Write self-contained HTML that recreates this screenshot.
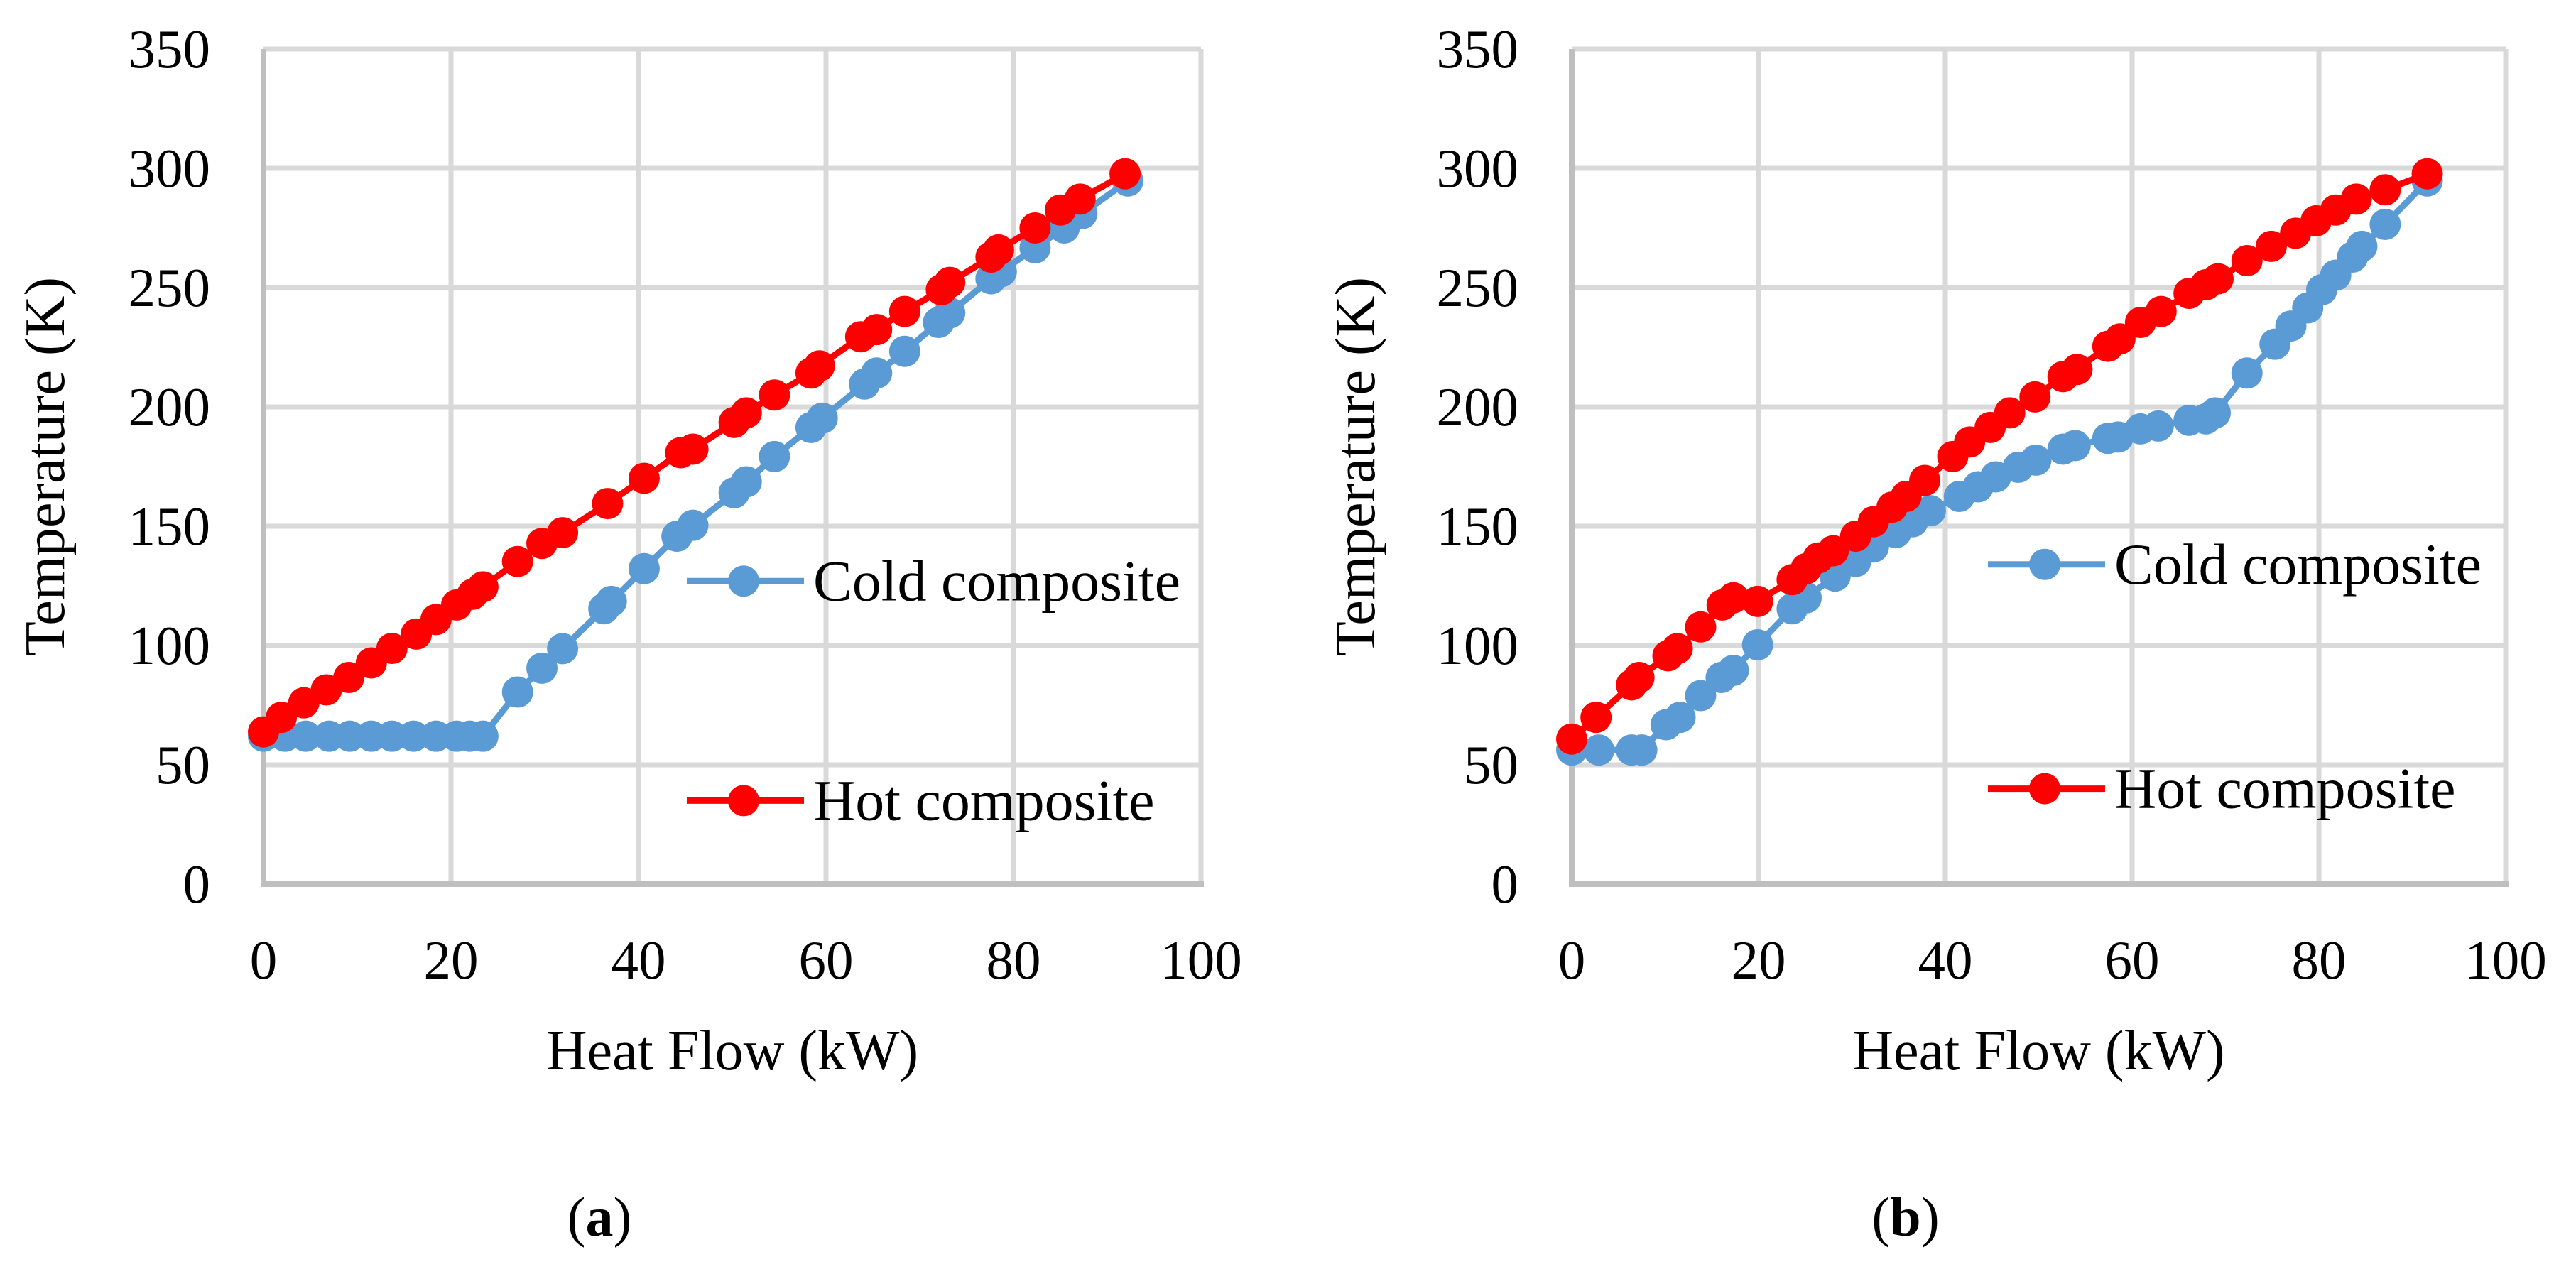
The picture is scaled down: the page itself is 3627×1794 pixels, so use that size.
<!DOCTYPE html>
<html><head><meta charset="utf-8"><style>
html,body{margin:0;padding:0;background:#fff;}
svg{display:block;font-family:"Liberation Serif",serif;}
</style></head><body>
<svg id="fig" width="3627" height="1794" viewBox="0 0 3627 1794"></svg>
<script>
const xTicks=[0,20,40,60,80,100];
const yTicks=[0,50,100,150,200,250,300,350];
const aHotX=[0,1.9,4.3,6.7,9.1,11.5,13.7,16.3,18.4,20.6,22.3,23.4,27.1,29.7,31.9,36.7,40.6,44.5,45.8,50.2,51.5,54.5,58.4,59.3,63.7,65.4,68.4,72.3,73.2,77.6,78.4,82.3,85,87.1,91.9];
const aHotY=[63.8,69.9,76,81.4,86.6,92.7,98.8,104.8,110.9,117,121.5,124.6,135.2,142.8,147.3,159.5,170.1,180.8,182.3,193.5,197.5,205,214.2,217.2,229.4,232.4,240,249.1,252.2,262.8,265.8,275,282.5,287.1,297.7];
const aColdX=[0,2.3,4.5,7,9.2,11.5,13.7,16,18.4,20.6,22,23.4,27.1,29.7,31.9,36.3,37.1,40.6,44.1,45.8,50.2,51.5,54.5,58.4,59.6,64.1,65.4,68.4,72,73.2,77.6,78.7,82.3,85.4,87.3,92.2];
const aColdY=[62,62,62,62,62,62,62,62,62,62,62,62,80.5,90.5,98.7,115.4,118.5,132.2,145.8,150.4,164,168.6,179.2,191.4,195.3,209.6,214.2,223.3,235.4,239.4,253.7,256.7,266.7,275,281,294.7];
const bHotX=[0,2.6,6.4,7.2,10.3,11.3,13.8,16.1,17.3,19.9,23.6,25.1,26.4,28,30.4,32.3,34.3,35.8,37.8,40.8,42.6,44.8,46.9,49.6,52.6,54.1,57.4,58.7,60.9,63.1,66.1,67.9,69.2,72.3,74.9,77.5,79.7,81.8,84,87.1,91.6];
const bHotY=[60.8,69.9,83.5,86.6,95.7,98.7,107.8,117,120,118.5,127.6,132.2,136.7,139.7,145.8,151.9,158,162.5,169.2,179.2,185.3,191.4,197.5,204.2,212.7,215.7,225.4,228.5,235.4,240,247.6,251.2,253.7,261.3,267.3,272.8,278,282.5,287.1,291,297.7];
const bColdX=[0,2.9,6.4,7.5,10.1,11.6,13.8,16,17.3,19.9,23.6,25.1,28.2,30.4,32.3,34.7,36.5,38.4,41.5,43.5,45.4,47.8,49.7,52.6,53.9,57.4,58.5,60.9,62.8,66.1,67.9,68.9,72.3,75.3,77,78.8,80.3,81.8,83.6,84.6,87.1,91.6];
const bColdY=[56.2,56.2,56.2,56.2,66.8,69.9,79,86.6,89.6,100.3,115.4,120,129.1,135.2,141.3,147.3,151.9,156.5,162.5,166.5,170.7,174.7,177.7,182.3,183.8,186.8,187.4,190.8,192,194.4,195,197.5,214.2,226.3,233.9,241.5,249.1,255.2,262.8,267.3,276.5,294.7];

const NS="http://www.w3.org/2000/svg";
const svg=document.getElementById('fig');
function mk(tag,attrs,parent){const e=document.createElementNS(NS,tag);for(const k in attrs)e.setAttribute(k,attrs[k]);(parent||svg).appendChild(e);return e;}

function chart(id,L,R,T,B,coldX,coldY,hotX,hotY,legCold,legHot,legX,ylabX,capX,capLetter){
  const g=mk('g',{});
  
  
  const sx=v=>L+(R-L)*v/100, sy=v=>B-(B-T)*v/350;
  xTicks.forEach(t=>{if(t>0){const l=mk('line',{x1:sx(t),x2:sx(t),y1:T,y2:B,stroke:'#d9d9d9','stroke-width':7},g);}});
  yTicks.forEach(t=>{if(t>0){const l=mk('line',{x1:L,x2:R,y1:sy(t),y2:sy(t),stroke:'#d9d9d9','stroke-width':7},g);}});
  const ya=mk('line',{x1:L,x2:L,y1:T,y2:B,stroke:'#bfbfbf','stroke-width':8},g);
  
  const xa=mk('line',{x1:L-4,x2:R+4,y1:B,y2:B,stroke:'#bfbfbf','stroke-width':8},g);
  
  yTicks.forEach(t=>{const e=mk('text',{x:L-75,y:sy(t)+26,'text-anchor':'end','font-size':77,fill:'#000'},g);e.textContent=t;});
  xTicks.forEach(t=>{const e=mk('text',{x:sx(t),y:1378,'text-anchor':'middle','font-size':77,fill:'#000'},g);e.textContent=t;});
  const xt=mk('text',{x:(L+R)/2,y:1506,'text-anchor':'middle','font-size':80,fill:'#000'},g);xt.textContent='Heat Flow (kW)';
  
  const yt=mk('text',{x:0,y:0,'text-anchor':'middle','font-size':80,fill:'#000',transform:`translate(${ylabX},${(T+B)/2}) rotate(-90)`},g);yt.textContent='Temperature (K)';
  
  function series(xs,ys,col,name){
    const pts=xs.map((x,i)=>sx(x)+','+sy(ys[i])).join(' ');
    const pl=mk('polyline',{points:pts,fill:'none',stroke:col,'stroke-width':9,'stroke-linejoin':'round'},g);
    
    xs.forEach((x,i)=>{const c=mk('circle',{cx:sx(x),cy:sy(ys[i]),r:22,fill:col},g);});
  }
  series(coldX,coldY,'#5b9bd5','cold-composite');
  series(hotX,hotY,'#ff0000','hot-composite');
  function legend(v,col,label,name){
    const y=sy(v);
    const lg=mk('g',{},g);
    mk('line',{x1:legX-80,x2:legX+85,y1:y,y2:y,stroke:col,'stroke-width':9},lg);
    mk('circle',{cx:legX,cy:y,r:22,fill:col},lg);
    const t=mk('text',{x:legX+98,y:y+27,'font-size':82,fill:'#000'},lg);t.textContent=label;
  }
  legend(legCold,'#5b9bd5','Cold composite','legend-cold-composite');
  legend(legHot,'#ff0000','Hot composite','legend-hot-composite');
  const cap=mk('text',{x:capX,y:1740,'text-anchor':'middle','font-size':78,fill:'#000'},g);
  
  cap.innerHTML='(<tspan font-weight="bold">'+capLetter+'</tspan>)';
}
chart('a',371,1691,69,1245,aColdX,aColdY,aHotX,aHotY,127,35,1047,90,844,'a');
chart('b',2213,3528,69,1245,bColdX,bColdY,bHotX,bHotY,134,40,2879,1935,2683,'b');
</script>
</body></html>
